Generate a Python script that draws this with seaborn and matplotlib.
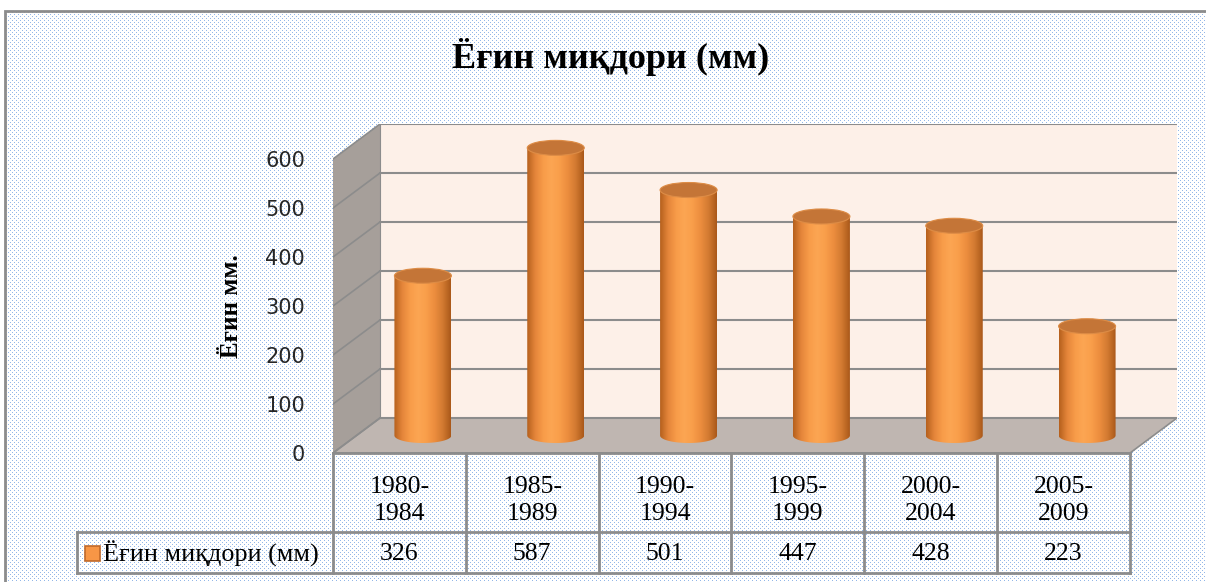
import numpy as np
import matplotlib
matplotlib.use("Agg")
import matplotlib.pyplot as plt
import seaborn as sns
from matplotlib.patches import Rectangle, Polygon, Ellipse
from matplotlib.colors import LinearSegmentedColormap

# -----------------------------
# data
# -----------------------------
periods = ["1980-\n1984", "1985-\n1989", "1990-\n1994",
           "1995-\n1999", "2000-\n2004", "2005-\n2009"]
rainfall = [326, 587, 501, 447, 428, 223]
y_ticks = [0, 100, 200, 300, 400, 500, 600]
title = "Ёғин миқдори (мм)"
y_label = "Ёғин мм."
series_name = "Ёғин миқдори (мм)"

sns.set_theme(style="white")
plt.rcParams["font.family"] = ["DejaVu Sans"]
serif = ["Liberation Serif", "DejaVu Serif"]

W, H = 1206, 582
fig = plt.figure(figsize=(W / 100, H / 100), dpi=100)

# -----------------------------
# dotted chart-area background
# -----------------------------
bg = np.ones((H, W, 3))
yy, xx = np.mgrid[0:H, 0:W]
dots = ((yy % 4 == 0) & (xx % 4 == 0)) | ((yy % 4 == 2) & (xx % 4 == 2))
bg[dots] = [0.58, 0.72, 0.91]
bg[:11, :] = 1
bg[:, :5] = 1
fig.figimage(bg, xo=0, yo=0, origin="upper", zorder=-5)
fig.patches.append(Rectangle((5 / W, -10 / H), 1220 / W, 581 / H, transform=fig.transFigure,
                             fill=False, ec="#8c8c8c", lw=2, zorder=-4))

# -----------------------------
# 3d box geometry (front plane = data plane)
# -----------------------------
ymax = y_ticks[-1]
n = len(periods)
ppu = 294 / ymax          # pixels per unit
pcat = 797 / n            # pixels per category
ddx = 47 / pcat           # depth offset, categories
ddy = 35 / ppu            # depth offset, units
x0, x1 = -0.5, n - 0.5
grid_c = "#8c8c8c"

ax = fig.add_axes([333 / W, 129 / H, (797 + 47) / W, (294 + 35) / H])
ax.set_facecolor("none")
ax.add_patch(Rectangle((x0 + ddx, ddy), x1 - x0, ymax, fc="#fdf0e8", ec="none", zorder=1))
ax.add_patch(Polygon([(x0, 0), (x0 + ddx, ddy), (x0 + ddx, ymax + ddy), (x0, ymax)],
                     fc="#a69f9a", ec="none", zorder=1))
ax.add_patch(Polygon([(x0, 0), (x1, 0), (x1 + ddx, ddy), (x0 + ddx, ddy)],
                     fc="#bfb6b1", ec=grid_c, lw=1.2, zorder=1.5))
for t in y_ticks:
    ax.plot([x0 + ddx, x1 + ddx], [t + ddy, t + ddy], color=grid_c, lw=1.5, zorder=2)
    ax.plot([x0, x0 + ddx], [t, t + ddy], color=grid_c, lw=1.2, zorder=2)
ax.plot([x0 + ddx, x0 + ddx], [ddy, ymax + ddy], color=grid_c, lw=0.8, zorder=2)
ax.set_xlim(x0, x1 + ddx)
ax.set_ylim(0, ymax + ddy)
ax.set_xticks([])
ax.set_yticks(y_ticks)
ax.set_yticklabels([str(t) for t in y_ticks])
ax.tick_params(axis="y", length=0, pad=20, labelsize=15, labelcolor="#262626")
for s in ax.spines.values():
    s.set_visible(False)
ax.set_ylabel(y_label, fontsize=18, fontweight="bold", family=serif, color="black")
ax.yaxis.set_label_coords(-0.107, 0.447)

# -----------------------------
# cylinders (bars at mid depth)
# -----------------------------
lo = -40
axb = fig.add_axes([(333 + 23.5) / W, (129 + 17.5 + lo * ppu) / H,
                    (797 + 47) / W, (294 + 35 - lo * ppu) / H])
axb.set_facecolor("none")
sns.barplot(x=periods, y=rainfall, ax=axb, width=57 / pcat, color="#f79646",
            saturation=1, linewidth=0, edgecolor="none", zorder=3)

cyl = LinearSegmentedColormap.from_list(
    "cyl", ["#b5601d", "#e4853a", "#f89c49", "#fca653", "#f99e4a",
            "#ec8d3e", "#d27a31", "#a95819"])
grad = np.linspace(0, 1, 256).reshape(1, -1)
eh = 15 / ppu
theta = np.linspace(np.pi, 2 * np.pi, 60)

bars = list(axb.patches)
for bar in bars:
    bx, bw, v = bar.get_x(), bar.get_width(), bar.get_height()
    cx = bx + bw / 2
    # cylinder silhouette: body + lower half of the base ellipse
    outline = np.vstack([[[bx, v]],
                         np.column_stack([cx + bw / 2 * np.cos(theta), eh / 2 * np.sin(theta)]),
                         [[bx + bw, v]]])
    body = Polygon(outline, closed=True, fc="none", ec="none", transform=axb.transData)
    axb.add_patch(body)
    bar.set_facecolor("none")
    im = axb.imshow(grad, extent=[bx, bx + bw, -eh, v], cmap=cyl, aspect="auto",
                    zorder=3.1, interpolation="bilinear")
    im.set_clip_path(body)
    axb.add_patch(Ellipse((cx, v), bw, eh, fc="#c47537", ec="#dd8c46", lw=0.8, zorder=4))

axb.set_xlim(x0, x1 + ddx)
axb.set_ylim(lo, ymax + ddy)
axb.axis("off")

# -----------------------------
# data table
# -----------------------------
top, row = 120, 41
axt = fig.add_axes([333 / W, 9 / H, 797 / W, top / H])
axt.set_facecolor("none")
axt.set_xlim(x0, x1)
axt.set_ylim(0, top)
axt.axis("off")
leg_x = x0 - 256 / pcat
tl = dict(color=grid_c, lw=2, clip_on=False, solid_capstyle="projecting")
for i in range(n + 1):
    axt.plot([i - 0.5, i - 0.5], [0, top], **tl)
axt.plot([x0, x1], [top, top], **tl)
axt.plot([leg_x, x1], [row, row], **tl)
axt.plot([leg_x, x1], [0, 0], **tl)
axt.plot([leg_x, leg_x], [0, row], **tl)

for i, (p, v) in enumerate(zip(periods, rainfall)):
    axt.text(i, (row + top) / 2 - 8, p, ha="center", va="center", fontsize=18.5,
             family=serif, linespacing=1.32, color="black")
    axt.text(i, row / 2 - 1, str(v), ha="center", va="center", fontsize=18.5,
             family=serif, color="black")

axt.add_patch(Rectangle((leg_x + 8 / pcat, row / 2 - 8.5), 15 / pcat, 15, fc="#f79646",
                        ec="#c0692a", lw=1.2, clip_on=False))
axt.text(leg_x + 26 / pcat, row / 2 - 1, series_name, ha="left", va="center", fontsize=18.8,
         family=serif, color="black")

# -----------------------------
# title
# -----------------------------
fig.text(611 / W, 1 - 57 / H, title, ha="center", va="center", fontsize=26,
         fontweight="bold", family=serif, color="black")

fig.savefig("out.png", dpi=100)
